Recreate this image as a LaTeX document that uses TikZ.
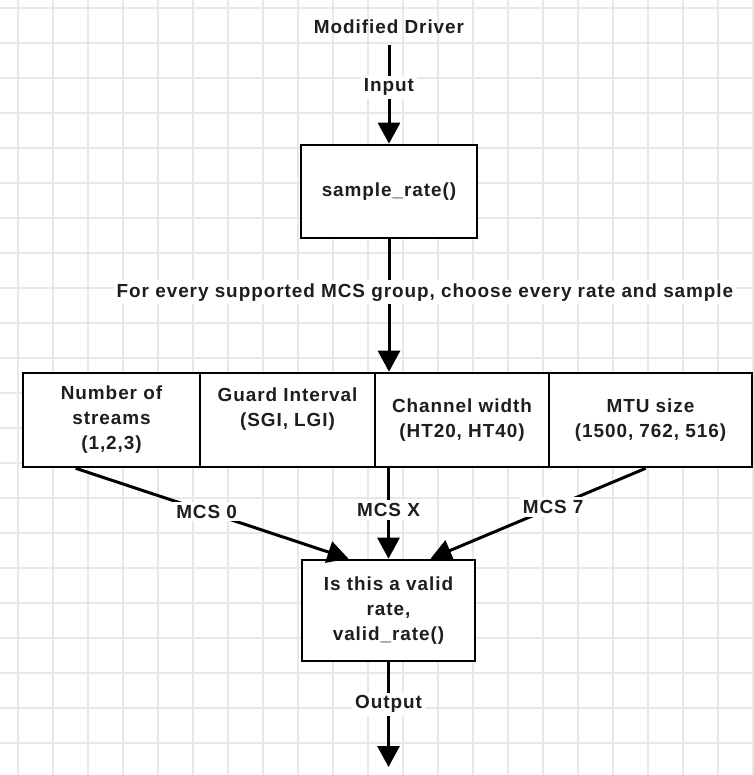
\documentclass[tikz,border=0pt]{standalone}
\usepackage{fontspec}
\setmainfont{Liberation Sans}[LetterSpace=5]
\usetikzlibrary{arrows.meta}
\definecolor{gridgray}{HTML}{E8E8E8}
\definecolor{ink}{HTML}{1E1E1E}
\begin{document}
\begin{tikzpicture}[x=1bp,y=-1bp,
  box/.style={draw=black, line width=2.6bp, fill=white, inner sep=0pt, anchor=center},
  txt/.style={font=\bfseries\fontsize{19}{25}\selectfont, text=ink, align=center},
  lbl/.style={txt, fill=white, inner sep=3bp},
  conn/.style={draw=black, line width=3bp, -{Triangle[width=22bp,length=21bp]}},
]
% page and grid
\fill[white] (0,0) rectangle (754,775);
\useasboundingbox (0,0) rectangle (754,775);
\foreach \i in {0,...,21} {
  \draw[gridgray, line width=1.4bp] (18+35*\i,0) -- (18+35*\i,775);
  \draw[gridgray, line width=1.4bp] (0,8+35*\i) -- (754,8+35*\i);
}

% nodes
\node[txt] (md) at (389,27) {Modified Driver};
\node[box, txt, minimum width=176bp, minimum height=93bp] (sample) at (389,191.5) {sample\_rate()};

\node[box, txt, minimum width=177bp, minimum height=94bp] (n1) at (111.5,420) {Number of\\streams\\(1,2,3)};
\node[box, txt, minimum width=175bp, minimum height=94bp] (n2) at (287.5,420) {Guard Interval\\(SGI, LGI)\\\mbox{}};
\node[box, txt, minimum width=174bp, minimum height=94bp] (n3) at (462,420) {Channel width\\(HT20, HT40)};
\node[box, txt, minimum width=203bp, minimum height=94bp] (n4) at (650.5,420) {MTU size\\(1500, 762, 516)};

\node[box, txt, minimum width=173bp, minimum height=101bp] (valid) at (388.5,610.5) {Is this a valid\\rate,\\valid\_rate()};
\coordinate (out) at (388.5,767);

% connectors
\draw[conn] ([yshift=-18bp]md.center) -- node[lbl, pos=0.43] {Input} (sample.north);
\draw[conn] (sample.south) -- node[lbl, pos=0.4, xshift=36bp] {For every supported MCS group, choose every rate and sample} (sample.south |- n3.north);

\draw[conn] ([xshift=54bp]n1.south west) -- node[lbl, pos=0.48] {MCS 0} ([xshift=-40bp]valid.north);
\draw[conn] (valid.north |- n3.south) -- node[lbl, pos=0.46] {MCS X} (valid.north);
\draw[conn] ([xshift=98bp]n4.south west) -- node[lbl, pos=0.43] {MCS 7} ([xshift=42bp]valid.north);

\draw[conn] (valid.south) -- node[lbl, pos=0.4] {Output} (out);
\end{tikzpicture}
\end{document}
